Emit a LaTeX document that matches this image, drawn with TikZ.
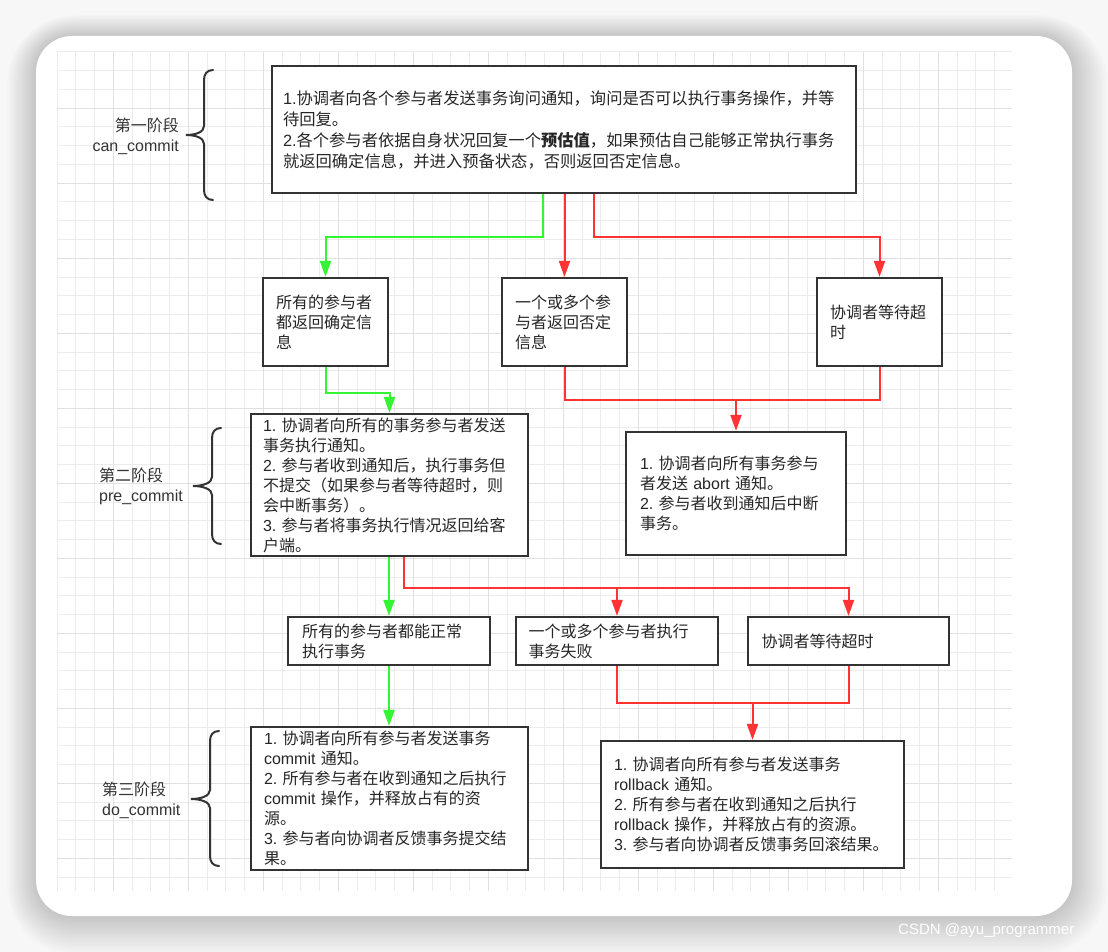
\documentclass[tikz,border=0pt]{standalone}
\usepackage{fontspec}
\setmainfont{Noto Sans CJK SC}
\newfontfamily\latf{Liberation Sans}
\newcommand\lw[1]{{\latf #1}}
\usetikzlibrary{arrows.meta,calc}
\definecolor{gline}{RGB}{51,245,51}
\definecolor{rline}{RGB}{255,51,51}
\definecolor{bord}{RGB}{51,51,51}
\definecolor{gridc}{RGB}{236,236,236}
\definecolor{gridm}{RGB}{224,224,224}
\begin{document}
\begin{tikzpicture}[x=1pt,y=-1pt,
 box/.style={draw=bord, line width=2.2pt, fill=white, inner xsep=13pt, inner ysep=0pt, align=left, text=black!85, font=\fontsize{16}{20}\selectfont},
 garr/.style={draw=gline, line width=2pt, -{Triangle[length=16pt,width=11pt]}},
 rarr/.style={draw=rline, line width=2pt, -{Triangle[length=16pt,width=11pt]}},
 rln/.style={draw=rline, line width=2pt},
 bracestyle/.style={draw=bord, line width=2pt, line cap=round},
 lab/.style={font=\fontsize{16}{20}\selectfont, text=black!80, inner sep=0pt}]
\useasboundingbox (0,0) rectangle (1108,952);
\fill[black!3] (0,0) rectangle (1108,952);
% soft shadow of the card
\foreach \k in {1,...,16}
  \fill[black, opacity=0.011, rounded corners=36pt+2pt*\k] (36-1.8*\k,36-1.3*\k) rectangle (1072+2.2*\k,916+2.4*\k);
\fill[white, rounded corners=36pt] (36,36) rectangle (1072,916);
% grid
\begin{scope}
\clip (57,52) rectangle (1012,891);
\foreach \xx in {0,...,51} \draw[gridc, line width=1pt] (57+18.75*\xx,52) -- (57+18.75*\xx,891);
\foreach \yy in {0,...,45} \draw[gridc, line width=1pt] (57,52+18.75*\yy) -- (1012,52+18.75*\yy);
\foreach \xx in {0,...,12} \draw[gridm, line width=1pt] (113.25+75*\xx,52) -- (113.25+75*\xx,891);
\foreach \yy in {0,...,11} \draw[gridm, line width=1pt] (57,108.25+75*\yy) -- (1012,108.25+75*\yy);
\end{scope}
% braces and labels
\draw[bracestyle] (213,70) .. controls (207,70) and (204,74) .. (204,80) -- (204,126) .. controls (204,132) and (196,135) .. (186,135) .. controls (196,135) and (204,138) .. (204,144) -- (204,190) .. controls (204,196) and (207,200) .. (213,200);
\node[lab, anchor=east, align=right] (l1) at (179,136.5) {第一阶段\\\lw{can\_commit}};
\draw[bracestyle] (221,428) .. controls (215,428) and (212,432) .. (212,438) -- (212,477) .. controls (212,483) and (203,486) .. (193,486) .. controls (203,486) and (212,489) .. (212,495) -- (212,534) .. controls (212,540) and (215,544) .. (221,544);
\node[lab, anchor=west, align=left] (l2) at (99,486) {第二阶段\\\lw{pre\_commit}};
\draw[bracestyle] (219,731) .. controls (213,731) and (210,735) .. (210,741) -- (210,790) .. controls (210,796) and (201,799) .. (191,799) .. controls (201,799) and (210,802) .. (210,808) -- (210,856) .. controls (210,862) and (213,866) .. (219,866);
\node[lab, anchor=west, align=left] (l3) at (102,800) {第三阶段\\\lw{do\_commit}};
% boxes
\node[box, inner xsep=11pt, minimum width=584pt, minimum height=127pt, text width=562pt, font=\fontsize{16.3}{21}\selectfont] (t) at (564,129.5)
 {\lw{1.}协调者向各个参与者发送事务询问通知，询问是否可以执行事务操作，并等\\待回复。\\\lw{2.}各个参与者依据自身状况回复一个\textbf{预估值}，如果预估自己能够正常执行事务\\就返回确定信息，并进入预备状态，否则返回否定信息。};
\node[box, minimum width=125pt, minimum height=88pt, text width=99pt] (a) at (325.5,322) {所有的参与者\\都返回确定信\\息};
\node[box, minimum width=125pt, minimum height=88pt, text width=99pt] (b) at (564.5,322) {一个或多个参\\与者返回否定\\信息};
\node[box, minimum width=125pt, minimum height=88pt, text width=99pt] (c) at (879.5,322) {协调者等待超\\时};
\node[box, inner xsep=12pt, minimum width=277pt, minimum height=142pt, text width=253pt] (d) at (389.5,485)
 {\lw{1.}~协调者向所有的事务参与者发送\\事务执行通知。\\\lw{2.}~参与者收到通知后，执行事务但\\不提交（如果参与者等待超时，则\\会中断事务）。\\\lw{3.}~参与者将事务执行情况返回给客\\户端。};
\node[box, inner xsep=14pt, minimum width=220pt, minimum height=123pt, text width=192pt] (e) at (736,493.5)
 {\lw{1.}~协调者向所有事务参与\\者发送~\lw{abort}~通知。\\\lw{2.}~参与者收到通知后中断\\事务。};
\node[box, inner xsep=14pt, minimum width=202pt, minimum height=48pt, text width=174pt] (f) at (389,641) {所有的参与者都能正常\\执行事务};
\node[box, inner xsep=12.5pt, minimum width=202pt, minimum height=48pt, text width=177pt] (g) at (617,641) {一个或多个参与者执行\\事务失败};
\node[box, inner xsep=13.5pt, minimum width=201pt, minimum height=48pt, text width=174pt] (h) at (848.5,641) {协调者等待超时};
\node[box, minimum width=277pt, minimum height=143pt, text width=251pt] (j) at (389.5,798.5)
 {\lw{1.}~协调者向所有参与者发送事务\\\lw{commit}~通知。\\\lw{2.}~所有参与者在收到通知之后执行\\\lw{commit}~操作，并释放占有的资\\源。\\\lw{3.}~参与者向协调者反馈事务提交结\\果。};
\node[box, minimum width=303pt, minimum height=127pt, text width=277pt] (i) at (752.5,804.5)
 {\lw{1.}~协调者向所有参与者发送事务\\\lw{rollback}~通知。\\\lw{2.}~所有参与者在收到通知之后执行\\\lw{rollback}~操作，并释放占有的资源。\\\lw{3.}~参与者向协调者反馈事务回滚结果。};
% connectors
\draw[garr] ([xshift=-21pt]t.south) -- ++(0,43) -| (a.north);
\draw[rarr] (b.north |- t.south) -- (b.north);
\draw[rarr] ([xshift=30pt]t.south) -- ++(0,43) -| (c.north);
\draw[garr] (a.south) -- ++(0,26) -| (d.north);
\draw[rln] (b.south) -- ++(0,33) -| (c.south);
\coordinate (j1) at (e.north |- 0,399);
\draw[rarr] (j1) -- (e.north);
\draw[garr] (f.north |- d.south) -- (f.north);
\draw[rarr] ([xshift=14pt]d.south) -- ++(0,31) -| (h.north);
\coordinate (j2) at (g.north |- 0,587);
\draw[rarr] (j2) -- (g.north);
\draw[rln] (g.south) -- ++(0,37) -| (h.south);
\coordinate (j3) at (i.north |- 0,703);
\draw[rarr] (j3) -- (i.north);
\draw[garr] (f.south) -- (f.south |- j.north);
% watermark
\node[anchor=west, text=white, inner sep=0pt, font=\latf\fontsize{15}{18}\selectfont] (wm) at (898,931) {CSDN @ayu\_programmer};
\end{tikzpicture}
\end{document}
